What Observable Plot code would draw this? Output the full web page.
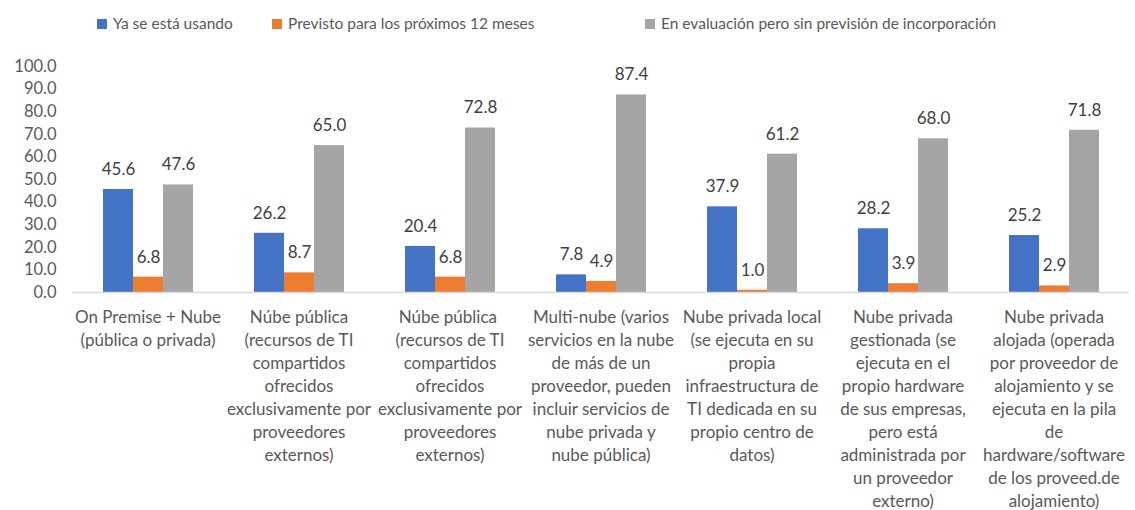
<!DOCTYPE html>
<html>
<head>
<meta charset="utf-8">
<script src="https://cdn.jsdelivr.net/npm/d3@7"></script>
<script src="https://cdn.jsdelivr.net/npm/@observablehq/plot@0.6"></script>
<style>
  html, body { margin: 0; padding: 0; background: #fff; }
  body { width: 1135px; height: 510px; overflow: hidden; font-family: Lato, "Open Sans", sans-serif; }
  #legend { position: relative; height: 45px; color: #595959; font-size: 15.5px; }
  #legend .item { position: absolute; top: 13px; white-space: nowrap; line-height: 20px; }
  #legend .sw { display: inline-block; width: 10px; height: 10px; margin-right: 6px; vertical-align: 0px; }
</style>
</head>
<body>
<div id="legend"></div>
<div id="chart"></div>
<script>
const categories = [
  "On Premise + Nube\n(pública o privada)",
  "Núbe pública\n(recursos de TI\ncompartidos\nofrecidos\nexclusivamente por\nproveedores\nexternos)",
  "Núbe pública \n(recursos de TI\ncompartidos\nofrecidos\nexclusivamente por\nproveedores\nexternos)",
  "Multi-nube (varios\nservicios en la nube\nde más de un\nproveedor, pueden\nincluir servicios de\nnube privada y\nnube pública)",
  "Nube privada local\n(se ejecuta en su\npropia\ninfraestructura de\nTI dedicada en su\npropio centro de\ndatos)",
  "Nube privada\ngestionada (se\nejecuta en el\npropio hardware\nde sus empresas,\npero está\nadministrada por\nun proveedor\nexterno)",
  "Nube privada\nalojada (operada\npor proveedor de\nalojamiento y se\nejecuta en la pila\nde\nhardware/software\nde los proveed.de\nalojamiento)"
];
const series = [
  "Ya se está usando",
  "Previsto para los próximos 12 meses",
  "En evaluación pero sin previsión de incorporación"
];
const usando     = [45.6, 26.2, 20.4, 7.8, 37.9, 28.2, 25.2];
const previsto   = [6.8, 8.7, 6.8, 4.9, 1.0, 3.9, 2.9];
const evaluacion = [47.6, 65.0, 72.8, 87.4, 61.2, 68.0, 71.8];
const colors = ["#4472C4", "#ED7D31", "#A5A5A5"];
const yTicks = [0, 10, 20, 30, 40, 50, 60, 70, 80, 90, 100];

const seriesValues = [usando, previsto, evaluacion];
const data = categories.flatMap((c, i) =>
  series.map((s, j) => ({cat: c, serie: s, value: seriesValues[j][i]}))
);

// legend
const legendLefts = [97, 272, 645];
const legend = document.getElementById("legend");
series.forEach((s, j) => {
  const it = document.createElement("div");
  it.className = "item";
  it.style.left = legendLefts[j] + "px";
  it.innerHTML = `<span class="sw" style="background:${colors[j]}"></span>${s}`;
  legend.appendChild(it);
});

const fmt = d => d.toFixed(1);

const chart = Plot.plot({
  width: 1135,
  height: 465,
  marginLeft: 70,
  marginRight: 5,
  marginTop: 21,
  marginBottom: 218,
  style: {fontFamily: "Lato, 'Open Sans', sans-serif", fontSize: "16px", color: "#595959", background: "#fff"},
  fx: {domain: categories, padding: 0, label: null},
  x: {domain: series, paddingInner: 0, paddingOuter: 0.98, axis: null},
  y: {domain: [0, 100], label: null},
  color: {domain: series, range: colors},
  marks: [
    Plot.axisY({ticks: yTicks, tickSize: 0, tickPadding: 16, tickFormat: fmt, label: null, fontSize: 16.5, fill: "#595959"}),
    Plot.axisFx({anchor: "bottom", tickSize: 0, tickPadding: 14, label: null, fontSize: 17, lineHeight: 1.353, fill: "#595959"}),
    Plot.barY(data, {fx: "cat", x: "serie", y: "value", fill: "serie"}),
    Plot.ruleY([0], {stroke: "#d9d9d9", strokeWidth: 1.5}),
    Plot.text(data, {fx: "cat", x: "serie", y: "value", text: d => fmt(d.value), dy: -20, fill: "#404040", fontSize: 17})
  ]
});
document.getElementById("chart").appendChild(chart);
</script>
</body>
</html>
